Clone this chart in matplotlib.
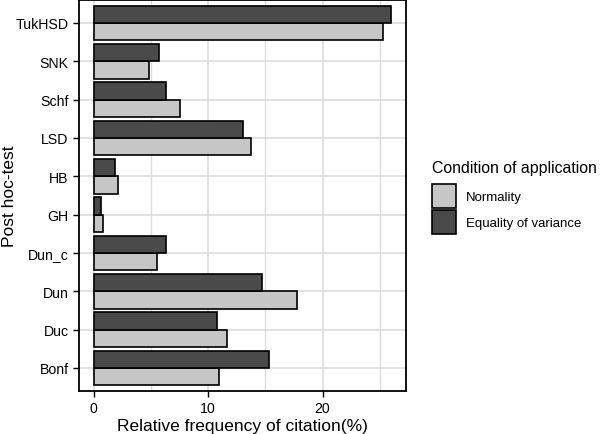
import matplotlib.pyplot as plt
import numpy as np
from matplotlib.patches import Patch
from matplotlib.ticker import MultipleLocator

plt.rcParams['font.family'] = ['Liberation Sans', 'DejaVu Sans']

# Post hoc tests, bottom to top
tests = ["Bonf", "Duc", "Dun", "Dun_c", "GH", "HB", "LSD", "Schf", "SNK", "TukHSD"]
normality = [10.97, 11.67, 17.81, 5.52, 0.77, 2.1, 13.72, 7.55, 4.83, 25.3]
equal_var = [15.29, 10.8, 14.68, 6.3, 0.65, 1.81, 13.03, 6.3, 5.72, 26.0]

light = "#c6c6c6"
dark = "#4a4a4a"

fig = plt.figure(figsize=(6, 4.35), dpi=100)
ax = fig.add_axes([79 / 600, 1 - 392 / 435, (406 - 79) / 600, (392 - 1) / 435])

y = np.arange(1, len(tests) + 1)
h = 0.45
ax.barh(y - h / 2, normality, height=h, color=light, edgecolor="black", linewidth=1.2, zorder=3)
ax.barh(y + h / 2, equal_var, height=h, color=dark, edgecolor="black", linewidth=1.2, zorder=3)

ax.set_xlim(-1.3, 27.3)
ax.set_ylim(0.4, 10.6)
ax.set_yticks(y)
ax.set_yticklabels(tests)
ax.xaxis.set_major_locator(MultipleLocator(10))
ax.xaxis.set_minor_locator(MultipleLocator(5))
ax.grid(True, which="major", color="#dcdcdc", linewidth=1.2, zorder=0)
ax.grid(True, which="minor", axis="x", color="#dcdcdc", linewidth=1.0, zorder=0)
ax.tick_params(axis="both", which="major", labelsize=10.2, colors="black", length=4, width=1)
ax.tick_params(axis="x", which="minor", length=0)
for s in ax.spines.values():
    s.set_linewidth(1.3)
    s.set_color("black")

ax.set_xlabel("Relative frequency of citation(%)", fontsize=12.5, labelpad=2)
ax.set_ylabel("Post hoc-test", fontsize=12.5)
ax.yaxis.set_label_coords(-0.19, 0.5)

handles = [Patch(facecolor=light, edgecolor="black", linewidth=1.2, label="Normality"),
           Patch(facecolor=dark, edgecolor="black", linewidth=1.2, label="Equality of variance")]
leg = fig.legend(handles=handles, title="Condition of application", loc="center left",
                 bbox_to_anchor=(420 / 600, 1 - 198 / 435), frameon=False, fontsize=9.5,
                 title_fontsize=11.4, handlelength=1.8, handleheight=2.42, labelspacing=0.15,
                 handletextpad=0.75, alignment="left")
# a bit more room between the title and the keys
leg._legend_box.sep = 7

fig.savefig("out.png", dpi=100)
